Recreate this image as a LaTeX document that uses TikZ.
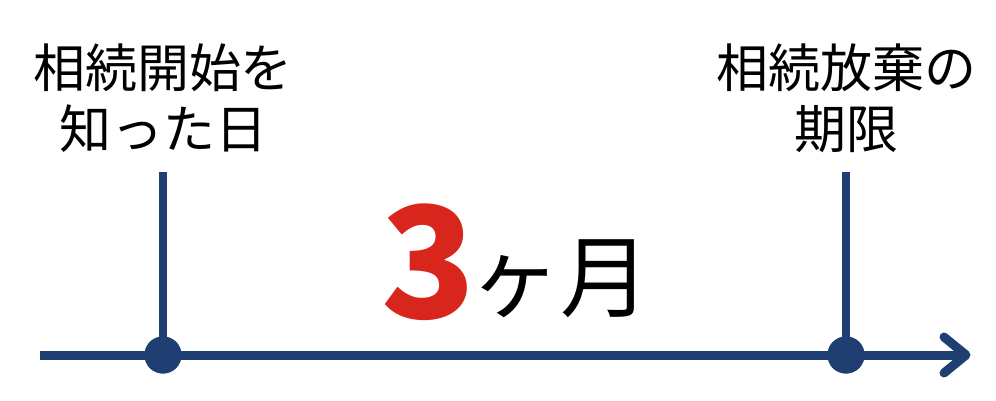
\documentclass[tikz,border=0pt]{standalone}
\usepackage{fontspec}
\newfontfamily\cjk{Noto Sans CJK JP}
\definecolor{navy}{HTML}{1F3F73}
\definecolor{redc}{HTML}{D9261C}
\begin{document}
\begin{tikzpicture}[x=1pt,y=-1pt,
  axis/.style={line width=9pt,draw=navy},
  tick/.style={line width=8pt,draw=navy},
  dot/.style={circle,fill=navy,inner sep=0pt,minimum size=37pt},
  lbl/.style={font=\cjk\fontsize{52}{61}\selectfont,align=center,text=black,inner sep=0pt}]
\useasboundingbox (0,0) rectangle (996,400);
\coordinate (start) at (40,355);
\coordinate (tip) at (966,355);
\node[dot] (d1) at (163,355) {};
\node[dot] (d2) at (846,355) {};
\coordinate (t1) at (163,172);
\coordinate (t2) at (846,172);
\draw[tick] (t1) -- (d1.center);
\draw[tick] (t2) -- (d2.center);
\draw[axis] (start) -- (tip);
\coordinate (a1) at (944,337);
\coordinate (a2) at (944,373);
\draw[axis,line cap=round,line join=round] (a1) -- (tip) -- (a2);
\node[dot] at (d1) {};
\node[dot] at (d2) {};
\node[lbl] (l1) at (163,98) {相続開始を\\知った日};
\node[lbl] (l2) at (846,98) {相続放棄の\\期限};
\node[inner sep=0pt,anchor=base] (n3) at (429,318) {\cjk\bfseries\fontsize{155}{155}\selectfont\textcolor{redc}{3}};
\node[inner sep=0pt,anchor=base west] (mon) at (470,310) {\cjk\fontsize{90}{90}\selectfont ヶ月};
\end{tikzpicture}
\end{document}
